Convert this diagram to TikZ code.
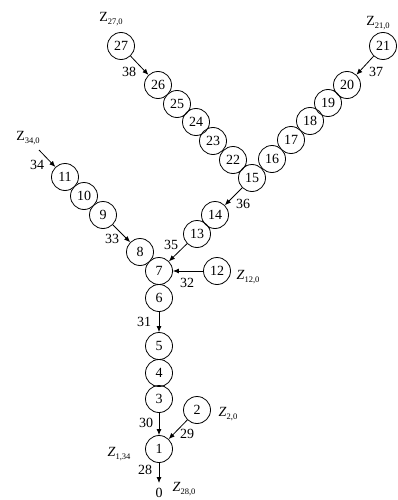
\documentclass[tikz,border=0pt]{standalone}
\usepackage{fontspec}
\setmainfont{Liberation Serif}
\usetikzlibrary{arrows.meta}
\newcommand{\zsub}[2]{#1\raisebox{-0.35ex}{\fontsize{8.5}{8.5}\selectfont #2}}
\begin{document}
\begin{tikzpicture}[x=1pt,y=-1pt,
  nd/.style={circle,draw,line width=0.8pt,minimum size=27pt,inner sep=0pt,font=\fontsize{14}{14}\selectfont},
  lb/.style={font=\fontsize{14}{14}\selectfont,inner sep=0pt},
  zl/.style={font=\fontsize{14}{14}\selectfont,inner sep=0pt},
  ar/.style={-{Latex[length=6pt,width=5pt]},line width=0.8pt}]
\useasboundingbox (0,0) rectangle (398,500);
% nodes
\node[nd] (n27) at (121,46) {27};
\node[nd] (n26) at (158,85) {26};
\node[nd] (n25) at (177,104) {25};
\node[nd] (n24) at (196,122) {24};
\node[nd] (n23) at (213,141) {23};
\node[nd] (n22) at (233,160) {22};
\node[nd] (n21) at (383,46) {21};
\node[nd] (n20) at (347,85) {20};
\node[nd] (n19) at (328,103) {19};
\node[nd] (n18) at (310,121) {18};
\node[nd] (n17) at (291,140) {17};
\node[nd] (n16) at (272,159) {16};
\node[nd] (n15) at (252,178) {15};
\node[nd] (n14) at (215,215) {14};
\node[nd] (n13) at (197,234) {13};
\node[nd] (n11) at (65,177) {11};
\node[nd] (n10) at (84,196) {10};
\node[nd] (n9) at (103,215) {9};
\node[nd] (n8) at (140,252) {8};
\node[nd] (n7) at (159,271) {7};
\node[nd] (n12) at (217,271) {12};
\node[nd] (n6) at (159,298) {6};
\node[nd] (n5) at (159,346) {5};
\node[nd] (n4) at (159,373) {4};
\node[nd] (n3) at (159,399) {3};
\node[nd] (n2) at (197,410) {2};
\node[nd] (n1) at (159,449) {1};
\coordinate (s34) at (39,150);
\coordinate (e28) at (159,483);
% connectors
\draw[ar] (n27) -- (n26);
\draw[ar] (n21) -- (n20);
\draw[ar] (n15) -- (n14);
\draw[ar] (n13) -- (n7);
\draw[ar] (s34) -- (n11);
\draw[ar] (n9) -- (n8);
\draw[ar] (n12) -- (n7);
\draw[ar] (n6) -- (n5);
\draw[ar] (n3) -- (n1);
\draw[ar] (n2) -- (n1);
\draw[ar] (n1) -- (e28);
% edge labels
\node[lb] (l38) at (129,72) {38};
\node[lb] (l37) at (376,72) {37};
\node[lb] (l36) at (243,204) {36};
\node[lb] (l35) at (171,245) {35};
\node[lb] (l34) at (37,165) {34};
\node[lb] (l33) at (112,239) {33};
\node[lb] (l32) at (187,283) {32};
\node[lb] (l31) at (144,322) {31};
\node[lb] (l30) at (146,423) {30};
\node[lb] (l29) at (187,434) {29};
\node[lb] (l28) at (145,470) {28};
\node[lb] (l0) at (159,492.5) {0};
% Z labels
\node[zl] (z27) at (111,19) {\zsub{Z}{27,0}};
\node[zl] (z21) at (378,23) {\zsub{Z}{21,0}};
\node[zl] (z34) at (28,138) {\zsub{Z}{34,0}};
\node[zl] (z12) at (248,277) {\zsub{\textit{Z}}{12,0}};
\node[zl] (z2) at (228,414) {\zsub{\textit{Z}}{2,0}};
\node[zl] (z1) at (119,454) {\zsub{\textit{Z}}{1,34}};
\node[zl] (z28) at (184,489) {\zsub{\textit{Z}}{28,0}};
\end{tikzpicture}
\end{document}
